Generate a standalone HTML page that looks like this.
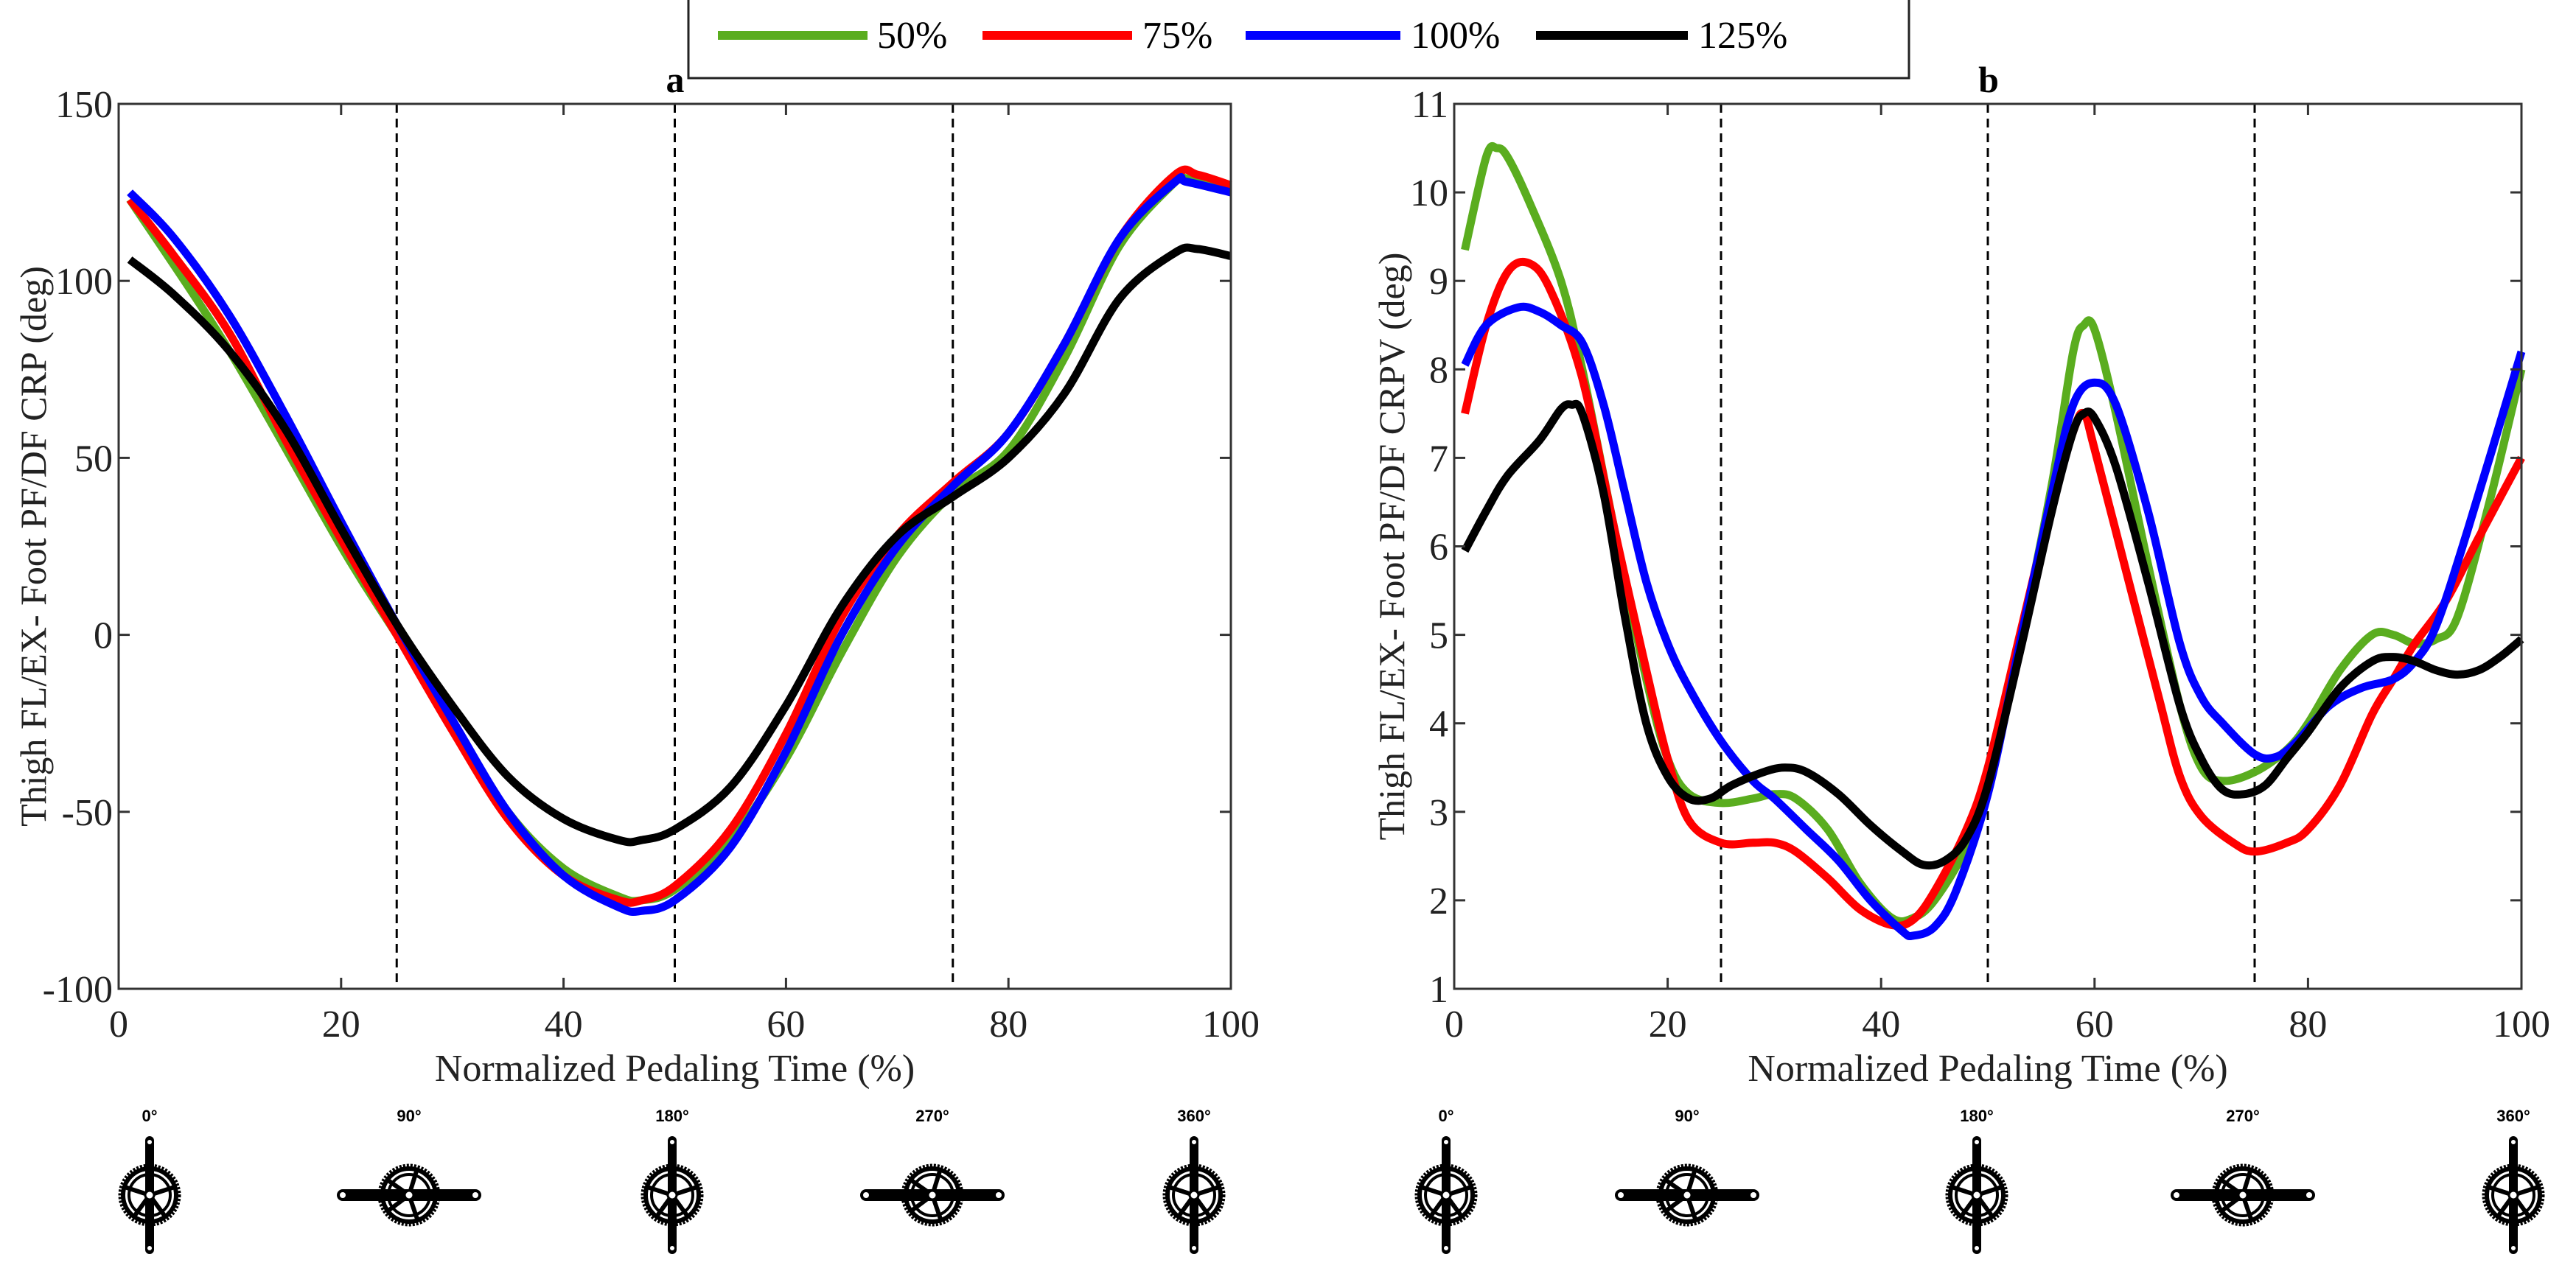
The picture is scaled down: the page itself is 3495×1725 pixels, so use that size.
<!DOCTYPE html>
<html><head><meta charset="utf-8"><style>
html,body{margin:0;padding:0;background:#fff;}
svg{display:block;font-family:"Liberation Serif",serif;}
</style></head><body>
<svg id="fig" width="3495" height="1725" viewBox="0 0 3495 1725" xmlns="http://www.w3.org/2000/svg">
<rect width="3495" height="1725" fill="#fff"/>
<g id="legend">
 <path d="M934 0 V106 H2590 V0" fill="none" stroke="#222" stroke-width="3"/>
 <g><line x1="974" y1="48" x2="1177" y2="48" stroke="#5aad1f" stroke-width="12"/><text x="1190" y="65" font-size="52">50%</text></g>
 <g><line x1="1333" y1="48" x2="1536" y2="48" stroke="#f00" stroke-width="12"/><text x="1550" y="65" font-size="52">75%</text></g>
 <g><line x1="1690" y1="48" x2="1900" y2="48" stroke="#00f" stroke-width="12"/><text x="1914" y="65" font-size="52">100%</text></g>
 <g><line x1="2084" y1="48" x2="2290" y2="48" stroke="#000" stroke-width="12"/><text x="2304" y="65" font-size="52">125%</text></g>
</g>
<g id="pa"></g>
<g id="pb"></g>
<g id="cranks"></g>
</svg>
<script>
// Panel a data (CRP, deg)
const aX_g=[1,10,20,25,30,35,40,45,47,50,55,60,65,70,75,80,85,90,95,96,100];
const aY_g=[123,80,25,0,-25,-50,-66,-74,-75,-72,-58,-35,-5,22,40,52,78,110,128,129,126];
const aX_r=[1,5,10,15,20,25,30,35,40,45,47,50,55,60,65,70,75,80,85,90,95,97,100];
const aY_r=[123,107,85,55,27,0,-27,-52,-68,-75,-75,-71,-55,-28,5,28,43,57,82,112,130,130,127];
const aX_b=[1,5,10,15,20,25,30,35,40,45,47,50,55,60,65,70,75,80,85,90,95,96,100];
const aY_b=[125,112,90,62,32,3,-24,-50,-68,-77,-78,-75,-60,-33,0,25,42,57,82,112,128,128,125];
const aX_k=[1,5,10,15,20,25,30,35,40,45,47,50,55,60,65,70,75,80,85,90,95,97,100];
const aY_k=[106,96,80,58,30,3,-20,-40,-52,-58,-58,-55,-43,-20,8,28,39,50,68,95,108,109,107];
// Panel b data (CRPV, deg)
const bX_g=[1,3,4,5,7,10,12,15,18,20,22,25,28,30,32,35,38,41,43,45,48,50,53,56,58,59,60,62,65,68,70,72,75,78,80,83,86,88,90,92,94,97,100];
const bY_g=[9.35,10.4,10.5,10.4,9.9,9.0,8.0,6.2,4.5,3.6,3.2,3.1,3.15,3.2,3.15,2.8,2.2,1.8,1.8,2.0,2.6,3.3,4.9,6.7,8.2,8.5,8.45,7.5,5.8,4.2,3.5,3.35,3.45,3.7,4.0,4.6,5.0,5.0,4.9,4.95,5.2,6.5,8.0];
const bX_r=[1,3,5,7,9,12,15,18,20,22,25,28,30,32,35,38,41,43,45,48,50,53,56,58,59,60,63,66,68,70,73,75,78,80,83,86,88,90,93,96,100];
const bY_r=[7.5,8.5,9.1,9.2,8.9,7.9,6.2,4.6,3.6,2.9,2.65,2.65,2.65,2.55,2.25,1.9,1.72,1.78,2.1,2.8,3.5,5.0,6.5,7.3,7.5,7.1,5.7,4.3,3.4,2.95,2.65,2.55,2.65,2.8,3.3,4.1,4.5,4.9,5.4,6.1,7.0];
const bX_b=[1,3,6,8,10,12,14,16,18,20,22,25,28,30,33,36,39,42,43,45,47,50,53,56,58,60,62,65,68,70,72,75,77,79,82,85,88,90,92,95,100];
const bY_b=[8.05,8.5,8.7,8.65,8.5,8.3,7.6,6.6,5.6,4.9,4.4,3.8,3.35,3.15,2.8,2.45,2.0,1.65,1.6,1.7,2.1,3.2,4.9,6.6,7.6,7.85,7.6,6.4,4.9,4.3,4.0,3.65,3.62,3.8,4.2,4.4,4.5,4.7,5.1,6.2,8.2];
const bX_k=[1,3,5,8,10,11,12,14,16,18,20,22,24,26,29,31,33,36,39,42,44,46,48,50,53,56,58,59,60,62,65,68,70,72,74,76,78,80,83,86,88,90,92,94,96,98,100];
const bY_k=[5.95,6.4,6.8,7.2,7.55,7.6,7.5,6.6,5.2,4.0,3.4,3.15,3.15,3.3,3.45,3.5,3.45,3.2,2.85,2.55,2.4,2.45,2.7,3.3,4.8,6.4,7.3,7.5,7.45,6.9,5.6,4.2,3.6,3.25,3.2,3.3,3.6,3.9,4.4,4.7,4.75,4.7,4.6,4.55,4.6,4.75,4.95];
const xTicks=[0,20,40,60,80,100];
const aTicks=[-100,-50,0,50,100,150];
const bTicks=[1,2,3,4,5,6,7,8,9,10,11];
const phaseLines=[25,50,75];
const crankLabels=["0°","90°","180°","270°","360°"];

const NS="http://www.w3.org/2000/svg";
function el(tag,attrs,parent,txt){const e=document.createElementNS(NS,tag);for(const k in attrs)e.setAttribute(k,attrs[k]);if(txt!==undefined)e.textContent=txt;parent.appendChild(e);return e;}
function smooth(pts){let d="M"+pts[0][0]+" "+pts[0][1];for(let i=0;i<pts.length-1;i++){const p0=pts[Math.max(0,i-1)],p1=pts[i],p2=pts[i+1],p3=pts[Math.min(pts.length-1,i+2)];const c1=[p1[0]+(p2[0]-p0[0])/6,p1[1]+(p2[1]-p0[1])/6],c2=[p2[0]-(p3[0]-p1[0])/6,p2[1]-(p3[1]-p1[1])/6];d+=" C"+c1[0].toFixed(1)+" "+c1[1].toFixed(1)+" "+c2[0].toFixed(1)+" "+c2[1].toFixed(1)+" "+p2[0].toFixed(1)+" "+p2[1].toFixed(1);}return d;}

function panel(g,L,R,T,B,ymin,ymax,yt,series,title,titleX,ylab,ylabX,name){
 const sx=v=>L+(v-0)/100*(R-L), sy=v=>B-(v-ymin)/(ymax-ymin)*(B-T);
 // dashed phase lines
 phaseLines.forEach(p=>{const l=el("line",{x1:sx(p),x2:sx(p),y1:T,y2:B,stroke:"#000","stroke-width":3,"stroke-dasharray":"12,8"},g);
 
 });
 // series
 series.forEach(s=>{const pts=s.x.map((v,i)=>[sx(v),sy(s.y[i])]);const p=el("path",{d:smooth(pts),fill:"none",stroke:s.c,"stroke-width":11,"stroke-linejoin":"round"},g);
 
 });
 // frame
 const f=el("rect",{x:L,y:T,width:R-L,height:B-T,fill:"none",stroke:"#333","stroke-width":3},g);
 
 
 xTicks.forEach(v=>{const x=sx(v);el("line",{x1:x,x2:x,y1:B,y2:B-15,stroke:"#333","stroke-width":3},g);el("line",{x1:x,x2:x,y1:T,y2:T+15,stroke:"#333","stroke-width":3},g);
 const t=el("text",{x:x,y:B+65,"font-size":52,"text-anchor":"middle",fill:"#222"},g,String(v));
 
 });
 yt.forEach(v=>{const y=sy(v);el("line",{x1:L,x2:L+15,y1:y,y2:y,stroke:"#333","stroke-width":3},g);el("line",{x1:R,x2:R-15,y1:y,y2:y,stroke:"#333","stroke-width":3},g);
 const t=el("text",{x:L-8,y:y+18,"font-size":52,"text-anchor":"end",fill:"#222"},g,String(v));
 
 });
 const xl=el("text",{x:(L+R)/2,y:1467,"font-size":52,"text-anchor":"middle",fill:"#222"},g,"Normalized Pedaling Time (%)");
 
 
 const yl=el("text",{x:0,y:0,"font-size":50,"text-anchor":"middle",fill:"#222",transform:"translate("+ylabX+","+(T+B)/2+") rotate(-90)"},g,ylab);
 
 
 const tt=el("text",{x:titleX,y:125,"font-size":50,"font-weight":"bold","text-anchor":"middle"},g,title);
 
 
}
panel(document.getElementById("pa"),161,1670,141,1342,-100,150,aTicks,[
 {x:aX_g,y:aY_g,c:"#5aad1f",n:"50"},{x:aX_r,y:aY_r,c:"#f00",n:"75"},{x:aX_b,y:aY_b,c:"#00f",n:"100"},{x:aX_k,y:aY_k,c:"#000",n:"125"}],
 "a",916,"Thigh FL/EX- Foot PF/DF CRP (deg)",62,"panel-a");
panel(document.getElementById("pb"),1973,3421,141,1342,1,11,bTicks,[
 {x:bX_g,y:bY_g,c:"#5aad1f",n:"50"},{x:bX_r,y:bY_r,c:"#f00",n:"75"},{x:bX_b,y:bY_b,c:"#00f",n:"100"},{x:bX_k,y:bY_k,c:"#000",n:"125"}],
 "b",2698,"Thigh FL/EX- Foot PF/DF CRPV (deg)",1905,"panel-b");

// crank icons
const cg=document.getElementById("cranks");
const crankX=[203,555,912,1265,1620,1962,2289,2682,3043,3410];
crankX.forEach((cx,i)=>{const k=i%5;const cy=1622;
 const g=el("g",{},cg);
 
 
 el("text",{x:cx,y:1522,"font-size":22,"font-weight":"bold","text-anchor":"middle","font-family":"Liberation Sans, sans-serif"},g,crankLabels[k]);
 el("circle",{cx:cx,cy:cy,r:40,fill:"none",stroke:"#000","stroke-width":5,"stroke-dasharray":"3,2"},g);
 el("circle",{cx:cx,cy:cy,r:36,fill:"none",stroke:"#000","stroke-width":6},g);
 el("circle",{cx:cx,cy:cy,r:28,fill:"none",stroke:"#000","stroke-width":4},g);
 for(let s=0;s<5;s++){const a=s*72*Math.PI/180+(k%2?0.3:0);el("line",{x1:cx,y1:cy,x2:cx+34*Math.sin(a),y2:cy-34*Math.cos(a),stroke:"#000","stroke-width":6},g);}
 const vert=(k%2===0);
 if(vert){el("rect",{x:cx-6,y:cy-80,width:12,height:160,rx:6,fill:"#000"},g);
  el("circle",{cx:cx,cy:cy-72,r:3,fill:"#fff"},g);el("circle",{cx:cx,cy:cy+72,r:3,fill:"#fff"},g);}
 else{el("rect",{x:cx-98,y:cy-8,width:196,height:16,rx:8,fill:"#000"},g);
  el("circle",{cx:cx-90,cy:cy,r:4,fill:"#fff"},g);el("circle",{cx:cx+90,cy:cy,r:4,fill:"#fff"},g);}
 el("circle",{cx:cx,cy:cy,r:6,fill:"#fff",stroke:"#000","stroke-width":3},g);
});
</script>
</body></html>
